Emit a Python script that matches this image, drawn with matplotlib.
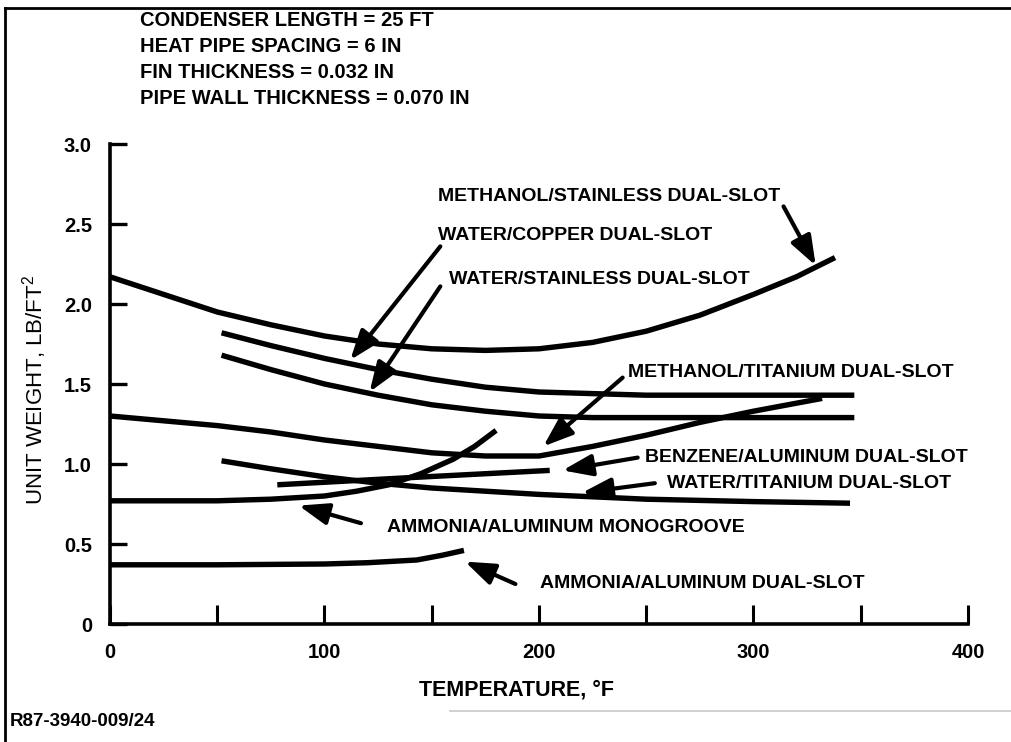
import matplotlib
matplotlib.use("Agg")
import matplotlib.pyplot as plt
from matplotlib.lines import Line2D

plt.rcParams['font.family'] = ['Liberation Sans', 'DejaVu Sans']
plt.rcParams['mathtext.default'] = 'regular'

# unit weight (lb/ft^2) vs temperature (F) for each fluid / wall combination
meth_ss_t = [0, 25, 50, 75, 100, 125, 150, 175, 200, 225, 250, 275, 300, 320, 338]
meth_ss_w = [2.17, 2.06, 1.95, 1.87, 1.80, 1.75, 1.72, 1.71, 1.72, 1.76, 1.83, 1.93, 2.06, 2.17, 2.29]

water_cu_t = [52, 75, 100, 125, 150, 175, 200, 250, 300, 347]
water_cu_w = [1.82, 1.74, 1.66, 1.59, 1.53, 1.48, 1.45, 1.43, 1.43, 1.43]

water_ss_t = [52, 75, 100, 125, 150, 175, 200, 225, 250, 300, 347]
water_ss_w = [1.68, 1.59, 1.50, 1.43, 1.37, 1.33, 1.30, 1.29, 1.29, 1.29, 1.29]

meth_ti_t = [0, 25, 50, 75, 100, 125, 150, 175, 200, 225, 250, 275, 300, 332]
meth_ti_w = [1.30, 1.27, 1.24, 1.20, 1.15, 1.11, 1.07, 1.05, 1.05, 1.11, 1.18, 1.26, 1.33, 1.41]

nh3_mono_t = [0, 25, 50, 75, 100, 115, 130, 145, 160, 170, 180]
nh3_mono_w = [0.77, 0.77, 0.77, 0.78, 0.80, 0.83, 0.87, 0.94, 1.03, 1.11, 1.21]

benzene_t = [78, 140, 205]
benzene_w = [0.87, 0.915, 0.96]

water_ti_t = [52, 75, 100, 125, 150, 175, 200, 250, 300, 345]
water_ti_w = [1.02, 0.97, 0.92, 0.88, 0.85, 0.83, 0.81, 0.78, 0.765, 0.755]

nh3_ds_t = [0, 50, 100, 120, 143, 155, 165]
nh3_ds_w = [0.37, 0.37, 0.375, 0.383, 0.40, 0.43, 0.46]

curves = [
    (meth_ss_t, meth_ss_w),
    (water_cu_t, water_cu_w),
    (water_ss_t, water_ss_w),
    (meth_ti_t, meth_ti_w),
    (nh3_mono_t, nh3_mono_w),
    (benzene_t, benzene_w),
    (water_ti_t, water_ti_w),
    (nh3_ds_t, nh3_ds_w),
]

# label text, text anchor (left, middle), arrow tail, arrow tip
labels = [
    ("METHANOL/STAINLESS DUAL-SLOT", (153, 2.67), (314, 2.61), (329, 2.24)),
    ("WATER/COPPER DUAL-SLOT", (153, 2.425), (154, 2.36), (112, 1.65)),
    ("WATER/STAINLESS DUAL-SLOT", (158, 2.15), (154, 2.11), (121, 1.45)),
    ("METHANOL/TITANIUM DUAL-SLOT", (241.5, 1.57), (239, 1.54), (202, 1.11)),
    ("BENZENE/ALUMINUM DUAL-SLOT", (249.5, 1.04), (246, 1.04), (211, 0.96)),
    ("WATER/TITANIUM DUAL-SLOT", (259.5, 0.875), (254, 0.88), (220, 0.82)),
    ("AMMONIA/ALUMINUM MONOGROOVE", (129, 0.60), (117, 0.63), (88, 0.74)),
    ("AMMONIA/ALUMINUM DUAL-SLOT", (200.5, 0.256), (189, 0.25), (165.5, 0.39)),
]

header = ["CONDENSER LENGTH = 25 FT", "HEAT PIPE SPACING = 6 IN",
          "FIN THICKNESS = 0.032 IN", "PIPE WALL THICKNESS = 0.070 IN"]

fig = plt.figure(figsize=(10.12, 7.42), dpi=100)
ax = fig.add_axes([110 / 1012, 1 - 624 / 742, 858 / 1012, 480 / 742])

for t, w in curves:
    ax.plot(t, w, color='black', lw=3.9, solid_capstyle='butt')

for text, pos, tail, tip in labels:
    ax.text(pos[0], pos[1], text, ha='left', va='center', fontsize=14,
            fontweight='bold')
    ax.annotate('', xy=tip, xytext=tail,
                arrowprops=dict(arrowstyle='-|>,head_length=0.9,head_width=0.33',
                                mutation_scale=20, lw=3, color='black',
                                shrinkA=0, shrinkB=0))

ax.set_xlim(0, 400)
ax.set_ylim(0, 3.0)
for s in ['top', 'right']:
    ax.spines[s].set_visible(False)
for s in ['left', 'bottom']:
    ax.spines[s].set_linewidth(2.6)

ax.set_xticks([0, 100, 200, 300, 400])
ax.set_xticklabels(['0', '100', '200', '300', '400'])
ax.set_xticks([50, 150, 250, 350], minor=True)
ax.set_yticks([0, 0.5, 1.0, 1.5, 2.0, 2.5, 3.0])
ax.set_yticklabels(['0', '0.5', '1.0', '1.5', '2.0', '2.5', '3.0'])
ax.tick_params(axis='x', which='both', direction='in', length=14, width=2.2,
               pad=14, labelsize=14.5)
ax.tick_params(axis='y', direction='in', length=12, width=2.4, pad=13,
               labelsize=14.5)
for lab in ax.get_xticklabels() + ax.get_yticklabels():
    lab.set_fontweight('bold')

ax.set_xlabel('TEMPERATURE, °F', fontsize=15.5, fontweight='bold')
ax.xaxis.set_label_coords((517 - 110) / 858, -(690 - 624) / 480)
ax.xaxis.label.set_va('center')
ax.set_ylabel('UNIT WEIGHT, LB/FT$^2$', fontsize=16)
ax.yaxis.set_label_coords(-(110 - 35) / 858, (624 - 390) / 480)
ax.yaxis.label.set_va('center')

for i, line in enumerate(header):
    fig.text(140 / 1012, 1 - (20 + 26 * i) / 742, line, ha='left', va='center',
             fontsize=14.5, fontweight='bold')

fig.text(10 / 1012, 1 - 722 / 742, 'R87-3940-009/24', ha='left', va='center',
         fontsize=13.5, fontweight='bold')

# page frame
fig.add_artist(Line2D([5 / 1012, 1.0], [1 - 8 / 742] * 2, color='black', lw=2))
fig.add_artist(Line2D([5 / 1012] * 2, [0, 1 - 8 / 742], color='black', lw=2))
fig.add_artist(Line2D([450 / 1012, 1.0], [1 - 711 / 742] * 2, color='#c8c8c8', lw=1.2))

fig.savefig('out.png', dpi=100)
